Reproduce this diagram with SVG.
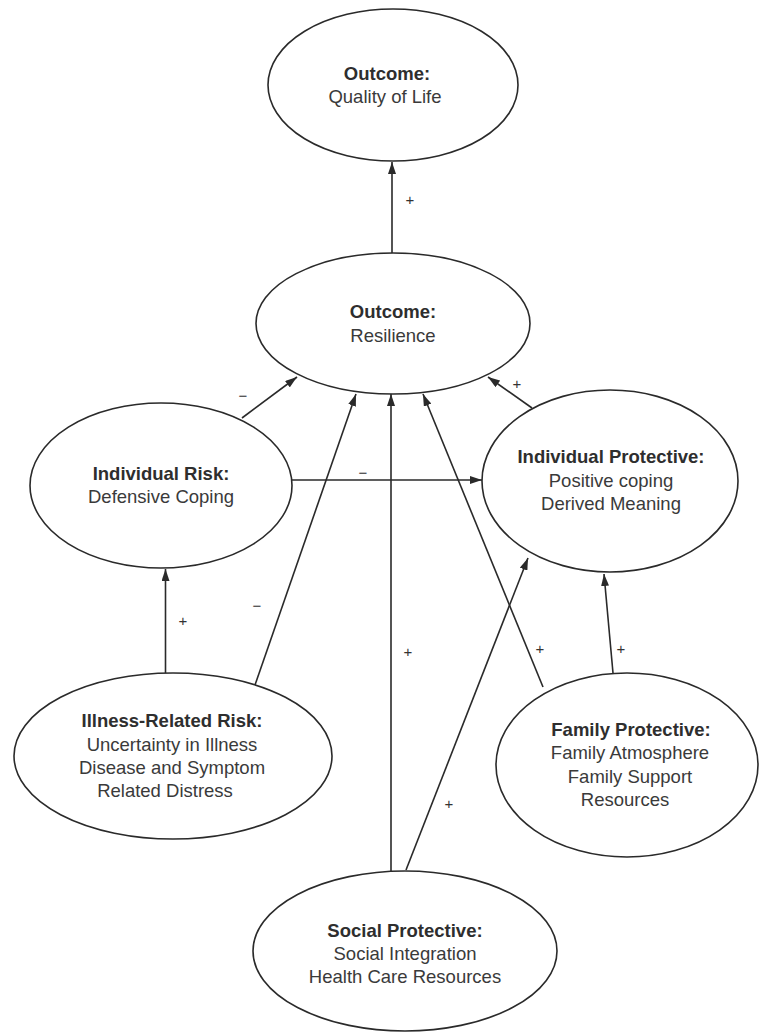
<svg xmlns="http://www.w3.org/2000/svg" width="759" height="1032" viewBox="0 0 759 1032">
<style>
.node ellipse{fill:#fff;stroke:#2a2a2a;stroke-width:1.6}
.t{font-family:"Liberation Sans",Arial,Helvetica,sans-serif;font-size:18.5px;text-anchor:middle;fill:#3a3a3a}
.b{font-weight:bold;fill:#2e2e2e}
.conn line{stroke:#2a2a2a;stroke-width:1.6;fill:none}
.arr{marker-end:url(#ah)}
.lbl{font-family:"Liberation Sans",Arial,Helvetica,sans-serif;font-size:15px;text-anchor:middle;dominant-baseline:central;fill:#333}
</style>
<defs>
<marker id="ah" markerUnits="userSpaceOnUse" markerWidth="12" markerHeight="8" refX="12" refY="4" orient="auto">
<path d="M0,0 L12,4 L0,8 z" fill="#2a2a2a"/>
</marker>
</defs>
<rect width="759" height="1032" fill="#fff"/>
<g id="connectors" class="conn">
<line class="arr" x1="392" y1="253" x2="392" y2="162"/>
<line class="arr" x1="242" y1="418" x2="297" y2="377"/>
<line class="arr" x1="532" y1="408" x2="488" y2="377"/>
<line class="arr" x1="292" y1="480" x2="482" y2="480"/>
<line class="arr" x1="165.5" y1="673" x2="165.5" y2="569"/>
<line class="arr" x1="255" y1="685" x2="356" y2="394"/>
<line class="arr" x1="391" y1="871" x2="391" y2="394"/>
<line class="arr" x1="543" y1="687" x2="423" y2="394"/>
<line class="arr" x1="406" y1="870" x2="528" y2="558"/>
<line class="arr" x1="613" y1="673" x2="604" y2="574"/>
</g>
<g id="labels">
<text class="lbl" x="410" y="199">+</text>
<text class="lbl" x="243" y="395">−</text>
<text class="lbl" x="517" y="383">+</text>
<text class="lbl" x="363" y="472">−</text>
<text class="lbl" x="183" y="620">+</text>
<text class="lbl" x="257" y="605">−</text>
<text class="lbl" x="408" y="651">+</text>
<text class="lbl" x="540" y="648">+</text>
<text class="lbl" x="621" y="648">+</text>
<text class="lbl" x="449" y="803">+</text>
</g>
<g id="quality-of-life" class="node">
<ellipse cx="393" cy="85" rx="125" ry="76"/>
<text class="t b" x="387" y="80">Outcome:</text>
<text class="t" x="385" y="103">Quality of Life</text>
</g>
<g id="resilience" class="node">
<ellipse cx="393" cy="323.5" rx="137" ry="70.5"/>
<text class="t b" x="393" y="318">Outcome:</text>
<text class="t" x="393" y="342">Resilience</text>
</g>
<g id="individual-risk" class="node">
<ellipse cx="161" cy="485.5" rx="131" ry="82.5"/>
<text class="t b" x="161" y="480">Individual Risk:</text>
<text class="t" x="161" y="503">Defensive Coping</text>
</g>
<g id="individual-protective" class="node">
<ellipse cx="610" cy="481" rx="128" ry="91"/>
<text class="t b" x="611" y="463">Individual Protective:</text>
<text class="t" x="611" y="487">Positive coping</text>
<text class="t" x="611" y="510">Derived Meaning</text>
</g>
<g id="illness-related-risk" class="node">
<ellipse cx="173" cy="756" rx="159" ry="83"/>
<text class="t b" x="172" y="727">Illness-Related Risk:</text>
<text class="t" x="172" y="751">Uncertainty in Illness</text>
<text class="t" x="172" y="774">Disease and Symptom</text>
<text class="t" x="165" y="797">Related Distress</text>
</g>
<g id="family-protective" class="node">
<ellipse cx="627" cy="765" rx="131" ry="92"/>
<text class="t b" x="631" y="736">Family Protective:</text>
<text class="t" x="630" y="759">Family Atmosphere</text>
<text class="t" x="630" y="783">Family Support</text>
<text class="t" x="625" y="806">Resources</text>
</g>
<g id="social-protective" class="node">
<ellipse cx="405" cy="951" rx="152" ry="80"/>
<text class="t b" x="405" y="937">Social Protective:</text>
<text class="t" x="405" y="960">Social Integration</text>
<text class="t" x="405" y="983">Health Care Resources</text>
</g>
</svg>
